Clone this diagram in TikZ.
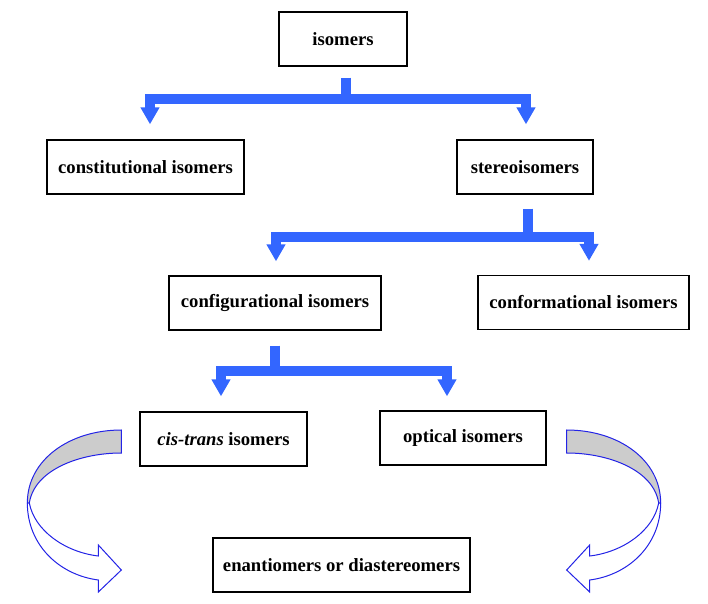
\documentclass[tikz,border=0pt]{standalone}
\usepackage{fontspec}
\setmainfont{Liberation Serif}
\usetikzlibrary{arrows.meta,calc}

\tikzset{
  box/.style={draw, line width=1pt, minimum height=40.5pt, inner sep=0pt,
    font=\fontsize{14}{16}\selectfont\bfseries},
  conn/.style={draw={rgb, 255:red, 51; green, 102; blue, 255}, line width=7.5pt,
    -{Triangle[width=13.5pt,length=12.75pt]}},
  turn/.style={line width=0.75pt, draw={rgb, 255:red, 35; green, 35; blue, 230}},
  pics/turnarrow/.style={code={
    \draw[turn, fill={rgb, 255:red, 204; green, 204; blue, 204}] (0,0) .. controls (-52,0) and (-94,30) .. (-94,73) -- (-92,73) .. controls (-87,40) and (-42,23) .. (0,23) -- cycle ;
    \draw[turn, fill=white] (-92,73) .. controls (-87,100) and (-57,122) .. (-23,126) -- (-23,115) -- (0,140) -- (-23,162) -- (-23,150) .. controls (-62,145) and (-94,115) .. (-94,73) -- cycle ;
  }}
}

\begin{document}
\begin{tikzpicture}[x=0.75pt,y=0.75pt,yscale=-1,xscale=1]
\useasboundingbox (0,0) rectangle (708,604);
%boxes
\node[box, minimum width=96pt] (isomers) at (343,39) {isomers};
\node[box, minimum width=147.75pt] (constit) at (145.5,167) {constitutional isomers};
\node[box, minimum width=102pt] (stereo) at (525,167) {stereoisomers};
\node[box, minimum width=159pt] (config) at (275,303) {configurational isomers};
\node[box, minimum width=158.25pt] (conform) at (583.5,302.5) {conformational isomers};
\node[box, minimum width=125.25pt] (cistrans) at (223.5,439) {{\itshape cis-trans} isomers};
\node[box, minimum width=124.5pt] (optical) at (463,438) {optical isomers};
\node[box, minimum width=192.75pt] (enant) at (341.5,565) {enantiomers or diastereomers};
%blue forks
\draw[conn] ($(isomers.south)+(3,11)$) -- ++(0,21) coordinate (j1) -| ($(constit.north)+(4.5,-15)$);
\draw[conn] (j1) -| ($(stereo.north)+(1,-15)$);
\draw[conn] ($(stereo.south)+(3,14)$) -- ++(0,28) coordinate (j2) -| ($(config.north)+(1,-14)$);
\draw[conn] (j2) -| ($(conform.north)+(5.5,-14)$);
\draw[conn] ($(config.south)+(0,15)$) -- ++(0,25) coordinate (j3) -| ($(cistrans.north)+(-2.5,-15)$);
\draw[conn] (j3) -| ($(optical.north)+(-16,-14)$);
%curved arrows
\pic[yscale=-1] at ($(cistrans.west)+(-18,-9)$) {turnarrow};
\pic[xscale=-1,yscale=-1] at ($(optical.east)+(20,-8)$) {turnarrow};
\end{tikzpicture}
\end{document}
